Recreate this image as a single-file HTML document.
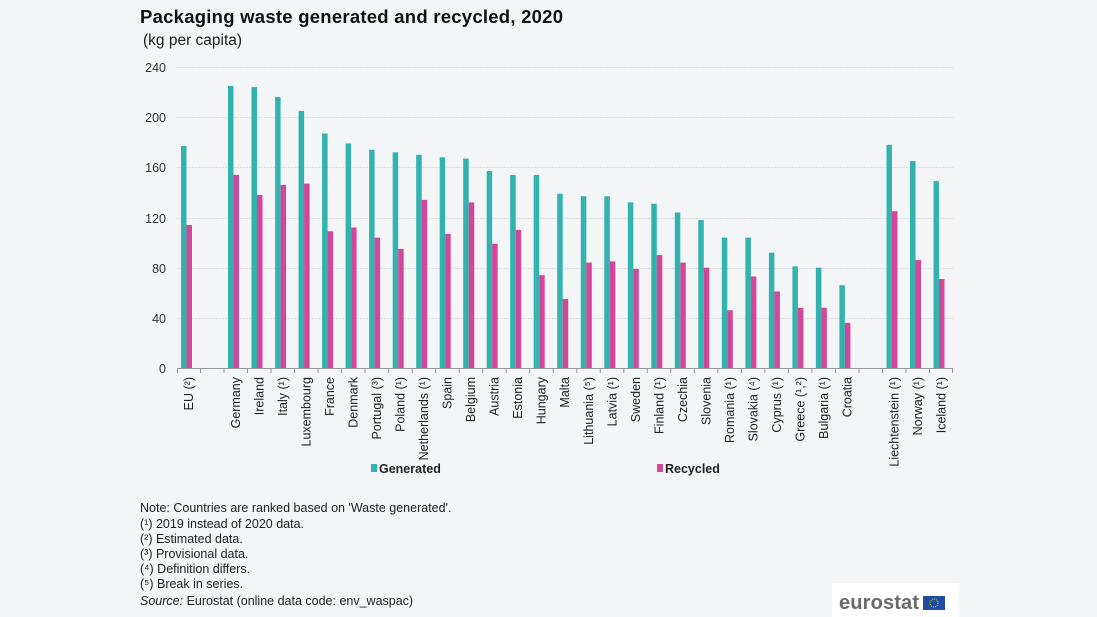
<!DOCTYPE html>
<html><head><meta charset="utf-8"><style>
html,body{margin:0;padding:0;background:#f3f5f7;}
svg{display:block;font-family:"Liberation Sans",Arial,sans-serif;}
</style></head><body>
<svg width="1097" height="617" viewBox="0 0 1097 617" xmlns="http://www.w3.org/2000/svg">
<rect width="1097" height="617" fill="#f3f5f7"/>
<text x="140" y="23" font-size="18.5" font-weight="bold" fill="#111" textLength="423">Packaging waste generated and recycled, 2020</text>
<text x="143" y="45" font-size="15.5" fill="#222">(kg per capita)</text>
<g stroke="#dcdfe3" stroke-width="1" stroke-dasharray="2,1">
<line x1="177" x2="953" y1="67.5" y2="67.5"/>
<line x1="177" x2="953" y1="117.5" y2="117.5"/>
<line x1="177" x2="953" y1="167.5" y2="167.5"/>
<line x1="177" x2="953" y1="218.5" y2="218.5"/>
<line x1="177" x2="953" y1="268.5" y2="268.5"/>
<line x1="177" x2="953" y1="318.5" y2="318.5"/>
</g>
<g font-size="12.5" fill="#333" text-anchor="end">
<text x="166" y="72">240</text><text x="166" y="122">200</text><text x="166" y="172">160</text>
<text x="166" y="223">120</text><text x="166" y="273">80</text><text x="166" y="323">40</text><text x="166" y="373">0</text>
</g>
<g id="bars">
<g transform="translate(177,368)"><rect x="4" y="-222" width="5.5" height="222" fill="#33b3b0"/><rect x="9.5" y="-143" width="5.5" height="143" fill="#d1489b"/></g>
<g transform="translate(224,368)"><rect x="4" y="-282.2" width="5.5" height="282.2" fill="#33b3b0"/><rect x="9.5" y="-193.1" width="5.5" height="193.1" fill="#d1489b"/></g>
<g transform="translate(247.5,368)"><rect x="4" y="-280.9" width="5.5" height="280.9" fill="#33b3b0"/><rect x="9.5" y="-173.1" width="5.5" height="173.1" fill="#d1489b"/></g>
<g transform="translate(271.1,368)"><rect x="4" y="-270.9" width="5.5" height="270.9" fill="#33b3b0"/><rect x="9.5" y="-183.1" width="5.5" height="183.1" fill="#d1489b"/></g>
<g transform="translate(294.6,368)"><rect x="4" y="-257.1" width="5.5" height="257.1" fill="#33b3b0"/><rect x="9.5" y="-184.4" width="5.5" height="184.4" fill="#d1489b"/></g>
<g transform="translate(318.1,368)"><rect x="4" y="-234.5" width="5.5" height="234.5" fill="#33b3b0"/><rect x="9.5" y="-136.7" width="5.5" height="136.7" fill="#d1489b"/></g>
<g transform="translate(341.6,368)"><rect x="4" y="-224.5" width="5.5" height="224.5" fill="#33b3b0"/><rect x="9.5" y="-140.5" width="5.5" height="140.5" fill="#d1489b"/></g>
<g transform="translate(365.1,368)"><rect x="4" y="-218.2" width="5.5" height="218.2" fill="#33b3b0"/><rect x="9.5" y="-130.4" width="5.5" height="130.4" fill="#d1489b"/></g>
<g transform="translate(388.7,368)"><rect x="4" y="-215.7" width="5.5" height="215.7" fill="#33b3b0"/><rect x="9.5" y="-119.1" width="5.5" height="119.1" fill="#d1489b"/></g>
<g transform="translate(412.2,368)"><rect x="4" y="-213.2" width="5.5" height="213.2" fill="#33b3b0"/><rect x="9.5" y="-168.1" width="5.5" height="168.1" fill="#d1489b"/></g>
<g transform="translate(435.7,368)"><rect x="4" y="-210.7" width="5.5" height="210.7" fill="#33b3b0"/><rect x="9.5" y="-134.2" width="5.5" height="134.2" fill="#d1489b"/></g>
<g transform="translate(459.2,368)"><rect x="4" y="-209.4" width="5.5" height="209.4" fill="#33b3b0"/><rect x="9.5" y="-165.6" width="5.5" height="165.6" fill="#d1489b"/></g>
<g transform="translate(482.7,368)"><rect x="4" y="-196.9" width="5.5" height="196.9" fill="#33b3b0"/><rect x="9.5" y="-124.2" width="5.5" height="124.2" fill="#d1489b"/></g>
<g transform="translate(506.2,368)"><rect x="4" y="-193.1" width="5.5" height="193.1" fill="#33b3b0"/><rect x="9.5" y="-138" width="5.5" height="138" fill="#d1489b"/></g>
<g transform="translate(529.7,368)"><rect x="4" y="-193.1" width="5.5" height="193.1" fill="#33b3b0"/><rect x="9.5" y="-92.8" width="5.5" height="92.8" fill="#d1489b"/></g>
<g transform="translate(553.2,368)"><rect x="4" y="-174.3" width="5.5" height="174.3" fill="#33b3b0"/><rect x="9.5" y="-69" width="5.5" height="69" fill="#d1489b"/></g>
<g transform="translate(576.8,368)"><rect x="4" y="-171.8" width="5.5" height="171.8" fill="#33b3b0"/><rect x="9.5" y="-105.4" width="5.5" height="105.4" fill="#d1489b"/></g>
<g transform="translate(600.3,368)"><rect x="4" y="-171.8" width="5.5" height="171.8" fill="#33b3b0"/><rect x="9.5" y="-106.6" width="5.5" height="106.6" fill="#d1489b"/></g>
<g transform="translate(623.8,368)"><rect x="4" y="-165.6" width="5.5" height="165.6" fill="#33b3b0"/><rect x="9.5" y="-99.1" width="5.5" height="99.1" fill="#d1489b"/></g>
<g transform="translate(647.3,368)"><rect x="4" y="-164.3" width="5.5" height="164.3" fill="#33b3b0"/><rect x="9.5" y="-112.9" width="5.5" height="112.9" fill="#d1489b"/></g>
<g transform="translate(670.8,368)"><rect x="4" y="-155.5" width="5.5" height="155.5" fill="#33b3b0"/><rect x="9.5" y="-105.4" width="5.5" height="105.4" fill="#d1489b"/></g>
<g transform="translate(694.3,368)"><rect x="4" y="-148" width="5.5" height="148" fill="#33b3b0"/><rect x="9.5" y="-100.3" width="5.5" height="100.3" fill="#d1489b"/></g>
<g transform="translate(717.8,368)"><rect x="4" y="-130.4" width="5.5" height="130.4" fill="#33b3b0"/><rect x="9.5" y="-57.7" width="5.5" height="57.7" fill="#d1489b"/></g>
<g transform="translate(741.4,368)"><rect x="4" y="-130.4" width="5.5" height="130.4" fill="#33b3b0"/><rect x="9.5" y="-91.6" width="5.5" height="91.6" fill="#d1489b"/></g>
<g transform="translate(764.9,368)"><rect x="4" y="-115.4" width="5.5" height="115.4" fill="#33b3b0"/><rect x="9.5" y="-76.5" width="5.5" height="76.5" fill="#d1489b"/></g>
<g transform="translate(788.4,368)"><rect x="4" y="-101.6" width="5.5" height="101.6" fill="#33b3b0"/><rect x="9.5" y="-60.2" width="5.5" height="60.2" fill="#d1489b"/></g>
<g transform="translate(811.9,368)"><rect x="4" y="-100.3" width="5.5" height="100.3" fill="#33b3b0"/><rect x="9.5" y="-60.2" width="5.5" height="60.2" fill="#d1489b"/></g>
<g transform="translate(835.4,368)"><rect x="4" y="-82.8" width="5.5" height="82.8" fill="#33b3b0"/><rect x="9.5" y="-45.2" width="5.5" height="45.2" fill="#d1489b"/></g>
<g transform="translate(882.5,368)"><rect x="4" y="-223.2" width="5.5" height="223.2" fill="#33b3b0"/><rect x="9.5" y="-156.8" width="5.5" height="156.8" fill="#d1489b"/></g>
<g transform="translate(906,368)"><rect x="4" y="-206.9" width="5.5" height="206.9" fill="#33b3b0"/><rect x="9.5" y="-107.9" width="5.5" height="107.9" fill="#d1489b"/></g>
<g transform="translate(929.5,368)"><rect x="4" y="-186.9" width="5.5" height="186.9" fill="#33b3b0"/><rect x="9.5" y="-89" width="5.5" height="89" fill="#d1489b"/></g>
</g>
<line x1="177" x2="953" y1="368.5" y2="368.5" stroke="#999" stroke-width="1"/>
<g stroke="#999" stroke-width="1">
<line x1="177.5" x2="177.5" y1="368" y2="373"/><line x1="200.5" x2="200.5" y1="368" y2="373"/><line x1="224" x2="224" y1="368" y2="373"/><line x1="247.5" x2="247.5" y1="368" y2="373"/><line x1="271" x2="271" y1="368" y2="373"/><line x1="294.6" x2="294.6" y1="368" y2="373"/><line x1="318" x2="318" y1="368" y2="373"/><line x1="341.6" x2="341.6" y1="368" y2="373"/><line x1="365" x2="365" y1="368" y2="373"/><line x1="388.7" x2="388.7" y1="368" y2="373"/><line x1="412.2" x2="412.2" y1="368" y2="373"/><line x1="435.7" x2="435.7" y1="368" y2="373"/><line x1="459.2" x2="459.2" y1="368" y2="373"/><line x1="482.7" x2="482.7" y1="368" y2="373"/><line x1="506.2" x2="506.2" y1="368" y2="373"/><line x1="529.7" x2="529.7" y1="368" y2="373"/><line x1="553.2" x2="553.2" y1="368" y2="373"/><line x1="576.8" x2="576.8" y1="368" y2="373"/><line x1="600.3" x2="600.3" y1="368" y2="373"/><line x1="623.8" x2="623.8" y1="368" y2="373"/><line x1="647.3" x2="647.3" y1="368" y2="373"/><line x1="670.8" x2="670.8" y1="368" y2="373"/><line x1="694.3" x2="694.3" y1="368" y2="373"/><line x1="717.8" x2="717.8" y1="368" y2="373"/><line x1="741.4" x2="741.4" y1="368" y2="373"/><line x1="764.9" x2="764.9" y1="368" y2="373"/><line x1="788.4" x2="788.4" y1="368" y2="373"/><line x1="811.9" x2="811.9" y1="368" y2="373"/><line x1="835.4" x2="835.4" y1="368" y2="373"/><line x1="859" x2="859" y1="368" y2="373"/><line x1="882.5" x2="882.5" y1="368" y2="373"/><line x1="906" x2="906" y1="368" y2="373"/><line x1="929.5" x2="929.5" y1="368" y2="373"/><line x1="952.5" x2="952.5" y1="368" y2="373"/>
</g>
<g font-size="12.5" fill="#222" text-anchor="end">
<text transform="translate(193,377) rotate(-90)">EU (²)</text>
<text transform="translate(240,377) rotate(-90)">Germany</text>
<text transform="translate(263.5,377) rotate(-90)">Ireland</text>
<text transform="translate(287,377) rotate(-90)">Italy (¹)</text>
<text transform="translate(310.6,377) rotate(-90)">Luxembourg</text>
<text transform="translate(334.1,377) rotate(-90)">France</text>
<text transform="translate(357.6,377) rotate(-90)">Denmark</text>
<text transform="translate(381.1,377) rotate(-90)">Portugal (³)</text>
<text transform="translate(404.7,377) rotate(-90)">Poland (¹)</text>
<text transform="translate(428.2,377) rotate(-90)">Netherlands (¹)</text>
<text transform="translate(451.7,377) rotate(-90)">Spain</text>
<text transform="translate(475.2,377) rotate(-90)">Belgium</text>
<text transform="translate(498.7,377) rotate(-90)">Austria</text>
<text transform="translate(522.2,377) rotate(-90)">Estonia</text>
<text transform="translate(545.7,377) rotate(-90)">Hungary</text>
<text transform="translate(569.2,377) rotate(-90)">Malta</text>
<text transform="translate(592.8,377) rotate(-90)">Lithuania (⁵)</text>
<text transform="translate(616.3,377) rotate(-90)">Latvia (¹)</text>
<text transform="translate(639.8,377) rotate(-90)">Sweden</text>
<text transform="translate(663.3,377) rotate(-90)">Finland (¹)</text>
<text transform="translate(686.8,377) rotate(-90)">Czechia</text>
<text transform="translate(710.3,377) rotate(-90)">Slovenia</text>
<text transform="translate(733.8,377) rotate(-90)">Romania (¹)</text>
<text transform="translate(757.4,377) rotate(-90)">Slovakia (⁴)</text>
<text transform="translate(780.9,377) rotate(-90)">Cyprus (¹)</text>
<text transform="translate(804.4,377) rotate(-90)">Greece (¹,²)</text>
<text transform="translate(827.9,377) rotate(-90)">Bulgaria (¹)</text>
<text transform="translate(851.4,377) rotate(-90)">Croatia</text>
<text transform="translate(898.5,377) rotate(-90)">Liechtenstein (¹)</text>
<text transform="translate(922,377) rotate(-90)">Norway (¹)</text>
<text transform="translate(945.5,377) rotate(-90)">Iceland (¹)</text>
</g>
<rect x="371" y="464" width="6" height="8" fill="#33b3b0"/>
<text x="379" y="473" font-size="12.5" font-weight="bold" fill="#222">Generated</text>
<rect x="657" y="464" width="6" height="8" fill="#d1489b"/>
<text x="665" y="473" font-size="12.5" font-weight="bold" fill="#222">Recycled</text>
<g font-size="12.5" fill="#222">
<text x="140" y="512">Note: Countries are ranked based on 'Waste generated'.</text>
<text x="140" y="528">(¹) 2019 instead of 2020 data.</text>
<text x="140" y="543">(²) Estimated data.</text>
<text x="140" y="558">(³) Provisional data.</text>
<text x="140" y="573">(⁴) Definition differs.</text>
<text x="140" y="588">(⁵) Break in series.</text>
<text x="140" y="605"><tspan font-style="italic">Source:</tspan> Eurostat (online data code: env_waspac)</text>
</g>
<rect x="832" y="583" width="127" height="34" fill="#ffffff"/>
<text x="839" y="609" font-size="20" font-weight="bold" fill="#6a6a6a" textLength="80">eurostat</text>
<rect x="923" y="596" width="22" height="14" fill="#1f4ea0"/>
<circle cx="934" cy="603" r="4" fill="none" stroke="#e8d020" stroke-width="1" stroke-dasharray="1,1.1"/>
</svg>
</body></html>
